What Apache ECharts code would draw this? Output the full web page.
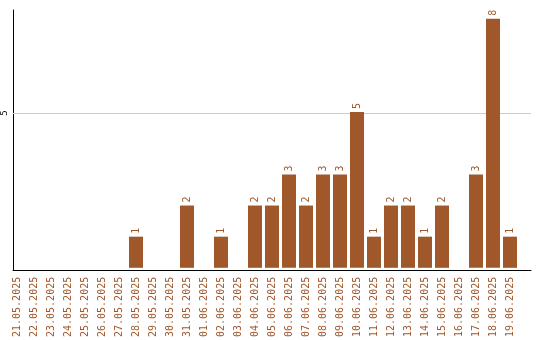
<!DOCTYPE html>
<html><head><meta charset="utf-8">
<script src="https://cdn.jsdelivr.net/npm/echarts@6/dist/echarts.min.js"></script>
<style>html,body{margin:0;padding:0;background:#fff}#c{width:540px;height:340px}</style>
</head><body><div id="c"></div>
<script>
const categories = ["21.05.2025","22.05.2025","23.05.2025","24.05.2025","25.05.2025","26.05.2025","27.05.2025","28.05.2025","29.05.2025","30.05.2025","31.05.2025","01.06.2025","02.06.2025","03.06.2025","04.06.2025","05.06.2025","06.06.2025","07.06.2025","08.06.2025","09.06.2025","10.06.2025","11.06.2025","12.06.2025","13.06.2025","14.06.2025","15.06.2025","16.06.2025","17.06.2025","18.06.2025","19.06.2025"];
const values = [0,0,0,0,0,0,0,1,0,0,2,0,1,0,2,2,3,2,3,3,5,1,2,2,1,2,0,3,8,1];
const yTicks = [5];
const color = '#a0572a';
const font = 'DejaVu Sans Mono';
const yMax = 8.28;
const chart = echarts.init(document.getElementById('c'));
chart.setOption({
  animation: false,
  grid: [
    {left: 8.5, right: 21.5, top: 10, bottom: 70},
    {left: 11, right: 9, top: 10, bottom: 70}
  ],
  xAxis: [{
    type: 'category', data: categories, gridIndex: 0,
    axisLine: {show: false},
    axisTick: {show: false},
    axisLabel: {rotate: 90, color: color, fontFamily: font, fontSize: 10, margin: 9, interval: 0}
  }, {
    type: 'value', gridIndex: 1, min: 0, max: 1,
    axisLine: {show: true, onZero: false, lineStyle: {color: '#000', width: 1}},
    axisTick: {show: false}, axisLabel: {show: false}, splitLine: {show: false}
  }],
  yAxis: [{
    type: 'value', gridIndex: 0, min: 0, max: yMax,
    axisLine: {show: false}, axisTick: {show: false}, axisLabel: {show: false}, splitLine: {show: false}
  }, {
    type: 'value', gridIndex: 1, min: 0, max: yMax, interval: 5,
    axisLine: {show: true, lineStyle: {color: '#000', width: 1}},
    axisTick: {show: false},
    splitLine: {show: false},
    axisLabel: {rotate: 90, color: '#000', fontFamily: font, fontSize: 9, margin: 4,
      formatter: v => yTicks.includes(v) ? String(v) : ''}
  }],
  series: [{
    type: 'line', xAxisIndex: 1, yAxisIndex: 1, data: [], z: 1,
    markLine: {silent: true, symbol: 'none', label: {show: false}, z: 1,
      lineStyle: {color: '#ccc', type: 'solid', width: 1},
      data: yTicks.map(t => ({yAxis: t}))}
  }, {
    type: 'bar', data: values, barWidth: 14, xAxisIndex: 0, yAxisIndex: 0,
    itemStyle: {color: color},
    label: {show: true, position: 'top', rotate: 90, align: 'left', verticalAlign: 'middle',
      distance: 3, color: color, fontFamily: font, fontSize: 10,
      formatter: p => p.value ? String(p.value) : ''},
    z: 3
  }]
});
</script></body></html>
